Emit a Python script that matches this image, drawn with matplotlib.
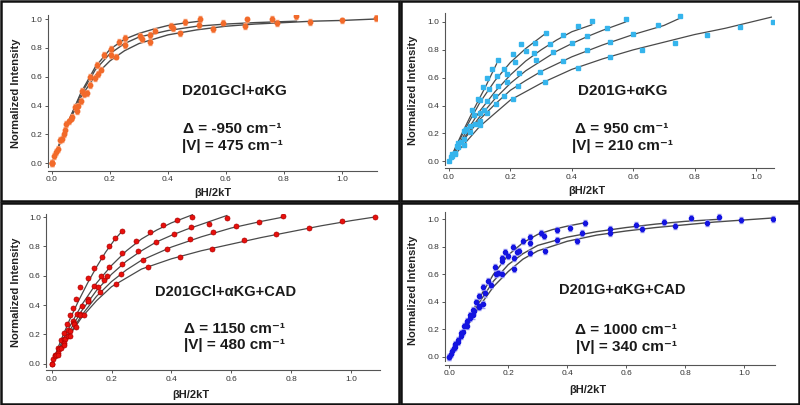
import matplotlib.pyplot as plt
from matplotlib.patches import Rectangle

plt.rcParams['font.family'] = ['Liberation Sans', 'DejaVu Sans']

W, H = 800, 405

# ---------------- data ----------------
ticks = [0.0, 0.2, 0.4, 0.6, 0.8, 1.0]

# D201GCl + aKG  (3 fields)
p1_x = [[0.0, 0.006, 0.029, 0.049, 0.066, 0.08, 0.103, 0.13, 0.155, 0.178, 0.203, 0.23, 0.253, 0.305, 0.356, 0.41, 0.46, 0.509],
        [0.0, 0.015, 0.035, 0.046, 0.07, 0.086, 0.1, 0.121, 0.149, 0.169, 0.203, 0.253, 0.337, 0.417, 0.506, 0.59, 0.672, 0.759, 0.843],
        [0.0, 0.02, 0.04, 0.06, 0.09, 0.11, 0.132, 0.16, 0.222, 0.31, 0.337, 0.443, 0.555, 0.667, 0.776, 0.888, 1.0, 1.117]]
p1_y = [[0.0, 0.05, 0.16, 0.27, 0.31, 0.39, 0.5, 0.6, 0.68, 0.75, 0.79, 0.84, 0.87, 0.88, 0.92, 0.95, 0.98, 1.0],
        [0.0, 0.08, 0.17, 0.23, 0.32, 0.36, 0.43, 0.485, 0.59, 0.65, 0.75, 0.82, 0.89, 0.935, 0.96, 0.975, 0.997, 1.0, 1.02],
        [0.0, 0.1, 0.2, 0.29, 0.4, 0.48, 0.54, 0.62, 0.74, 0.86, 0.84, 0.9, 0.93, 0.95, 0.97, 0.98, 0.99, 1.005]]
p1_fx = [[0, 0.05, 0.1, 0.15, 0.2, 0.25, 0.3, 0.35, 0.4, 0.45, 0.51],
         [0, 0.05, 0.1, 0.15, 0.2, 0.25, 0.3, 0.4, 0.5, 0.6, 0.7, 0.843],
         [0, 0.05, 0.1, 0.15, 0.2, 0.25, 0.3, 0.4, 0.5, 0.6, 0.7, 0.8, 0.9, 1.0, 1.117]]
p1_fy = [[0, 0.26, 0.49, 0.67, 0.79, 0.86, 0.9, 0.93, 0.955, 0.97, 0.985],
         [0, 0.26, 0.48, 0.65, 0.76, 0.83, 0.875, 0.92, 0.95, 0.965, 0.975, 0.985],
         [0, 0.25, 0.46, 0.61, 0.71, 0.78, 0.83, 0.89, 0.925, 0.95, 0.965, 0.975, 0.985, 0.99, 1.0]]

# D201G + aKG  (6 fields)
p2_x = [[0.005, 0.025, 0.05, 0.075, 0.095, 0.11, 0.125, 0.14, 0.16],
        [0.01, 0.03, 0.055, 0.08, 0.1, 0.13, 0.155, 0.18, 0.21, 0.235, 0.28, 0.315],
        [0.01, 0.04, 0.07, 0.1, 0.125, 0.16, 0.19, 0.215, 0.25, 0.276, 0.33, 0.372, 0.42, 0.465],
        [0.02, 0.05, 0.085, 0.115, 0.15, 0.19, 0.229, 0.283, 0.34, 0.4, 0.448, 0.514, 0.575],
        [0.03, 0.07, 0.1, 0.125, 0.18, 0.225, 0.296, 0.372, 0.448, 0.524, 0.6, 0.68, 0.753],
        [0.0, 0.02, 0.05, 0.1, 0.152, 0.209, 0.313, 0.419, 0.524, 0.63, 0.737, 0.842, 0.949, 1.054]]
p2_y = [[0.03, 0.11, 0.22, 0.37, 0.45, 0.53, 0.6, 0.665, 0.73],
        [0.05, 0.13, 0.23, 0.33, 0.44, 0.52, 0.61, 0.66, 0.77, 0.845, 0.85, 0.92],
        [0.04, 0.14, 0.25, 0.35, 0.43, 0.54, 0.63, 0.71, 0.79, 0.775, 0.84, 0.905, 0.97, 1.01],
        [0.06, 0.16, 0.27, 0.37, 0.47, 0.57, 0.636, 0.727, 0.787, 0.847, 0.9, 0.955, 1.02],
        [0.1, 0.21, 0.29, 0.35, 0.47, 0.54, 0.644, 0.72, 0.8, 0.86, 0.915, 0.98, 1.045],
        [0.0, 0.05, 0.12, 0.26, 0.41, 0.445, 0.572, 0.667, 0.746, 0.8, 0.85, 0.907, 0.966, 1.0]]
p2_fx = [[0, 0.04, 0.08, 0.12, 0.155],
         [0, 0.05, 0.1, 0.15, 0.2, 0.25, 0.31],
         [0, 0.05, 0.1, 0.15, 0.2, 0.25, 0.3, 0.35, 0.4, 0.465],
         [0, 0.05, 0.1, 0.15, 0.2, 0.25, 0.3, 0.35, 0.4, 0.45, 0.5, 0.575],
         [0, 0.05, 0.1, 0.15, 0.2, 0.25, 0.3, 0.4, 0.5, 0.6, 0.7, 0.755],
         [0, 0.1, 0.2, 0.3, 0.4, 0.5, 0.6, 0.7, 0.8, 0.9, 1.05]]
p2_fy = [[0, 0.19, 0.37, 0.54, 0.7],
         [0, 0.22, 0.42, 0.58, 0.71, 0.81, 0.91],
         [0, 0.19, 0.36, 0.5, 0.62, 0.72, 0.8, 0.87, 0.93, 0.98],
         [0, 0.17, 0.32, 0.45, 0.56, 0.65, 0.72, 0.79, 0.845, 0.895, 0.94, 1.0],
         [0, 0.16, 0.3, 0.41, 0.51, 0.58, 0.645, 0.75, 0.835, 0.91, 0.975, 1.03],
         [0, 0.25, 0.44, 0.56, 0.66, 0.735, 0.8, 0.855, 0.91, 0.955, 1.035]]

# D201GCl + aKG + CAD  (5 fields)
p3_x = [[0.0, 0.006, 0.012, 0.02, 0.03, 0.04, 0.05, 0.06, 0.07, 0.08, 0.095, 0.12, 0.143, 0.167, 0.19, 0.212, 0.236],
        [0.01, 0.025, 0.04, 0.055, 0.07, 0.085, 0.1, 0.12, 0.14, 0.165, 0.19, 0.236, 0.28, 0.327, 0.373, 0.42, 0.47],
        [0.015, 0.03, 0.045, 0.06, 0.075, 0.095, 0.12, 0.155, 0.186, 0.234, 0.29, 0.35, 0.41, 0.464, 0.525, 0.585],
        [0.02, 0.04, 0.055, 0.075, 0.095, 0.12, 0.16, 0.176, 0.23, 0.306, 0.384, 0.462, 0.54, 0.616, 0.694, 0.774],
        [0.0, 0.02, 0.04, 0.06, 0.08, 0.107, 0.214, 0.322, 0.43, 0.536, 0.643, 0.75, 0.86, 0.97, 1.08]]
p3_y = [[0.0, 0.035, 0.06, 0.11, 0.16, 0.21, 0.27, 0.33, 0.38, 0.44, 0.52, 0.585, 0.65, 0.725, 0.8, 0.855, 0.905],
        [0.05, 0.1, 0.17, 0.23, 0.29, 0.34, 0.39, 0.44, 0.53, 0.6, 0.66, 0.755, 0.835, 0.9, 0.945, 0.98, 1.0],
        [0.06, 0.11, 0.17, 0.22, 0.275, 0.34, 0.43, 0.52, 0.6, 0.68, 0.765, 0.83, 0.885, 0.93, 0.955, 0.99],
        [0.07, 0.14, 0.19, 0.27, 0.33, 0.43, 0.49, 0.57, 0.61, 0.71, 0.785, 0.85, 0.9, 0.94, 0.965, 1.01],
        [0.0, 0.06, 0.13, 0.19, 0.25, 0.33, 0.54, 0.66, 0.73, 0.785, 0.84, 0.885, 0.925, 0.97, 1.0]]
p3_fx = [[0, 0.03, 0.06, 0.09, 0.12, 0.15, 0.18, 0.21, 0.236],
         [0, 0.05, 0.1, 0.15, 0.2, 0.25, 0.3, 0.35, 0.4, 0.47],
         [0, 0.05, 0.1, 0.15, 0.2, 0.25, 0.3, 0.35, 0.4, 0.45, 0.5, 0.585],
         [0, 0.05, 0.1, 0.15, 0.2, 0.25, 0.3, 0.4, 0.5, 0.6, 0.7, 0.775],
         [0, 0.05, 0.1, 0.15, 0.2, 0.3, 0.4, 0.5, 0.6, 0.7, 0.8, 0.9, 1.0, 1.08]]
p3_fy = [[0, 0.155, 0.3, 0.43, 0.55, 0.66, 0.76, 0.845, 0.905],
         [0, 0.215, 0.4, 0.55, 0.67, 0.77, 0.85, 0.91, 0.96, 1.015],
         [0, 0.19, 0.36, 0.5, 0.61, 0.7, 0.77, 0.83, 0.875, 0.915, 0.95, 1.01],
         [0, 0.17, 0.33, 0.46, 0.56, 0.64, 0.705, 0.795, 0.865, 0.925, 0.97, 1.0],
         [0, 0.165, 0.315, 0.43, 0.525, 0.645, 0.715, 0.77, 0.815, 0.86, 0.9, 0.94, 0.975, 1.0]]

# D201G + aKG + CAD  (3 fields)
p4_x = [[0.0, 0.01, 0.02, 0.03, 0.04, 0.05, 0.06, 0.07, 0.08, 0.09, 0.1, 0.115, 0.13, 0.155, 0.165, 0.18, 0.19, 0.215, 0.235, 0.25, 0.275, 0.31, 0.32, 0.365, 0.41, 0.46],
        [0.005, 0.015, 0.03, 0.045, 0.055, 0.07, 0.085, 0.1, 0.12, 0.14, 0.16, 0.18, 0.2, 0.22, 0.23, 0.275, 0.365, 0.45, 0.545, 0.635, 0.73, 0.82, 0.915],
        [0.0, 0.02, 0.04, 0.06, 0.08, 0.1, 0.115, 0.18, 0.22, 0.275, 0.325, 0.435, 0.545, 0.655, 0.765, 0.875, 0.99, 1.1]]
p4_y = [[0.0, 0.04, 0.09, 0.12, 0.17, 0.22, 0.26, 0.3, 0.34, 0.4, 0.44, 0.51, 0.55, 0.65, 0.61, 0.72, 0.76, 0.8, 0.77, 0.84, 0.87, 0.9, 0.88, 0.92, 0.94, 0.97],
        [0.02, 0.06, 0.11, 0.18, 0.23, 0.28, 0.33, 0.37, 0.46, 0.52, 0.6, 0.7, 0.73, 0.72, 0.76, 0.83, 0.85, 0.9, 0.93, 0.96, 0.98, 1.01, 1.02],
        [0.0, 0.07, 0.15, 0.22, 0.3, 0.36, 0.38, 0.6, 0.64, 0.755, 0.77, 0.845, 0.9, 0.93, 0.95, 0.975, 0.995, 1.0]]
p4_fx = [[0, 0.05, 0.1, 0.15, 0.2, 0.25, 0.3, 0.35, 0.4, 0.46],
         [0, 0.05, 0.1, 0.15, 0.2, 0.25, 0.3, 0.4, 0.5, 0.6, 0.7, 0.8, 0.915],
         [0, 0.05, 0.1, 0.15, 0.2, 0.25, 0.3, 0.4, 0.5, 0.6, 0.7, 0.8, 0.9, 1.0, 1.1]]
p4_fy = [[0, 0.2, 0.42, 0.6, 0.74, 0.83, 0.89, 0.925, 0.95, 0.975],
         [0, 0.19, 0.39, 0.55, 0.67, 0.75, 0.81, 0.87, 0.91, 0.94, 0.965, 0.985, 1.0],
         [0, 0.18, 0.36, 0.51, 0.62, 0.71, 0.77, 0.84, 0.885, 0.915, 0.94, 0.96, 0.98, 0.995, 1.01]]

names = ['D201GCl+αKG', 'D201G+αKG', 'D201GCl+αKG+CAD', 'D201G+αKG+CAD']
deltas = ['Δ = -950 cm⁻¹', 'Δ = 950 cm⁻¹', 'Δ = 1150 cm⁻¹', 'Δ = 1000 cm⁻¹']
couplings = ['|V| = 475 cm⁻¹', '|V| = 210 cm⁻¹', '|V| = 480 cm⁻¹', '|V| = 340 cm⁻¹']


fig = plt.figure(figsize=(8, 4.05), dpi=100)


def make_axes(x0, x1, y0, y1, xlim, ylim, drop):
    # x0/x1 = pixel column of x=0 / x=1, y0/y1 = pixel row of y=0 / y=1
    sx = x1 - x0
    sy = y0 - y1
    left = x0 + xlim[0] * sx
    right = x0 + xlim[1] * sx
    bottom = y0 - ylim[0] * sy
    top = y0 - ylim[1] * sy
    ax = fig.add_axes([left / W, 1 - bottom / H, (right - left) / W, (bottom - top) / H])
    ax.set_xlim(xlim)
    ax.set_ylim(ylim)
    ax.patch.set_alpha(0)
    ax.spines['top'].set_visible(False)
    ax.spines['right'].set_visible(False)
    ax.spines['bottom'].set_position(('outward', drop * 0.72))
    for s in ['left', 'bottom']:
        ax.spines[s].set_color('#555555')
        ax.spines[s].set_linewidth(0.8)
    ax.set_xticks(ticks)
    ax.set_yticks(ticks)
    ax.set_xticklabels(['%.1f' % t for t in ticks])
    ax.set_yticklabels(['%.1f' % t for t in ticks])
    ax.tick_params(direction='out', length=2.5, width=0.7, labelsize=6,
                   color='#555555', labelcolor='#333333', pad=1.5)
    ax.set_xlabel('βH/2kT', fontsize=8, fontweight='bold', color='#222222')
    ax.set_ylabel('Normalized Intensity', fontsize=8, fontweight='bold', color='#222222')
    return ax


def place_labels(ax, xl, yl):
    # xl = centre of the x label, yl = centre of the y label, in pixels
    ax.xaxis.set_label_coords(xl[0] / W, 1 - (xl[1] - 5) / H, transform=fig.transFigure)
    ax.yaxis.set_label_coords((yl[0] + 5) / W, 1 - yl[1] / H, transform=fig.transFigure)


def labels(i, cx, cy1, cy2, cy3, size1):
    fig.text(cx[0] / W, 1 - cy1 / H, names[i], fontsize=size1, fontweight='bold',
             ha='center', va='center', color='#1a1a1a')
    fig.text(cx[1] / W, 1 - cy2 / H, deltas[i], fontsize=11, fontweight='bold',
             ha='center', va='center', color='#1a1a1a')
    fig.text(cx[1] / W, 1 - cy3 / H, couplings[i], fontsize=11, fontweight='bold',
             ha='center', va='center', color='#1a1a1a')


line_col = '#4a4a4a'

# panel 1
ax1 = make_axes(52, 342, 163.3, 19, (-0.013, 1.122), (-0.024, 1.03), 4)
for fx, fy in zip(p1_fx, p1_fy):
    ax1.plot(fx, fy, color=line_col, lw=1.0, zorder=2)
for x, y in zip(p1_x, p1_y):
    ax1.errorbar(x, y, yerr=0.02, fmt='o', ms=3.2, color='#f26a2a', ecolor='#f8a47c',
                 elinewidth=1.2, capsize=1.5, zorder=3)
place_labels(ax1, (213, 193), (16, 93))
labels(0, (234, 232), 91, 129, 146, 11)

# panel 2
ax2 = make_axes(449, 756, 161.3, 22, (-0.013, 1.06), (-0.027, 1.065), 3.2)
for fx, fy in zip(p2_fx, p2_fy):
    ax2.plot(fx, fy, color=line_col, lw=0.9, zorder=2)
for x, y in zip(p2_x, p2_y):
    ax2.plot(x, y, 's', ms=3.2, color='#35b4ec', mec='#35b4ec', zorder=3)
place_labels(ax2, (587, 191), (413, 90))
labels(1, (623, 622), 91, 129, 146, 11)

# panel 3
ax3 = make_axes(51.7, 351, 363.7, 217, (-0.018, 1.097), (-0.02, 1.02), 3.7)
for fx, fy in zip(p3_fx, p3_fy):
    ax3.plot(fx, fy, color=line_col, lw=0.9, zorder=2)
for x, y in zip(p3_x, p3_y):
    ax3.plot(x, y, 'o', ms=3.6, color='#e8100c', mec='#b00000', mew=0.5, zorder=3)
place_labels(ax3, (191, 394.5), (16, 292))
labels(2, (226, 235), 292, 329, 345, 10.5)

# panel 4
ax4 = make_axes(449.3, 744, 356.7, 219.3, (-0.015, 1.105), (-0.034, 1.05), 3.3)
for fx, fy in zip(p4_fx, p4_fy):
    ax4.plot(fx, fy, color=line_col, lw=1.0, zorder=2)
for x, y in zip(p4_x, p4_y):
    ax4.errorbar(x, y, yerr=0.022, fmt='o', ms=3.0, color='#1414e0', ecolor='#a0a0f2',
                 elinewidth=1.2, capsize=1.5, zorder=3)
place_labels(ax4, (588, 390), (413, 290))
labels(3, (622.5, 626), 290, 330, 347, 10.5)

# black frames round the four panels
for x, y, w, h in [(0, 0, 400, 202), (400, 0, 400, 202), (0, 202, 400, 203), (400, 202, 400, 203)]:
    fig.add_artist(Rectangle(((x + 1.2) / W, 1 - (y + h - 1.2) / H), (w - 2.4) / W, (h - 2.4) / H,
                             transform=fig.transFigure, fill=False, lw=1.8, ec='#111111'))

fig.savefig('out.png', dpi=100)
